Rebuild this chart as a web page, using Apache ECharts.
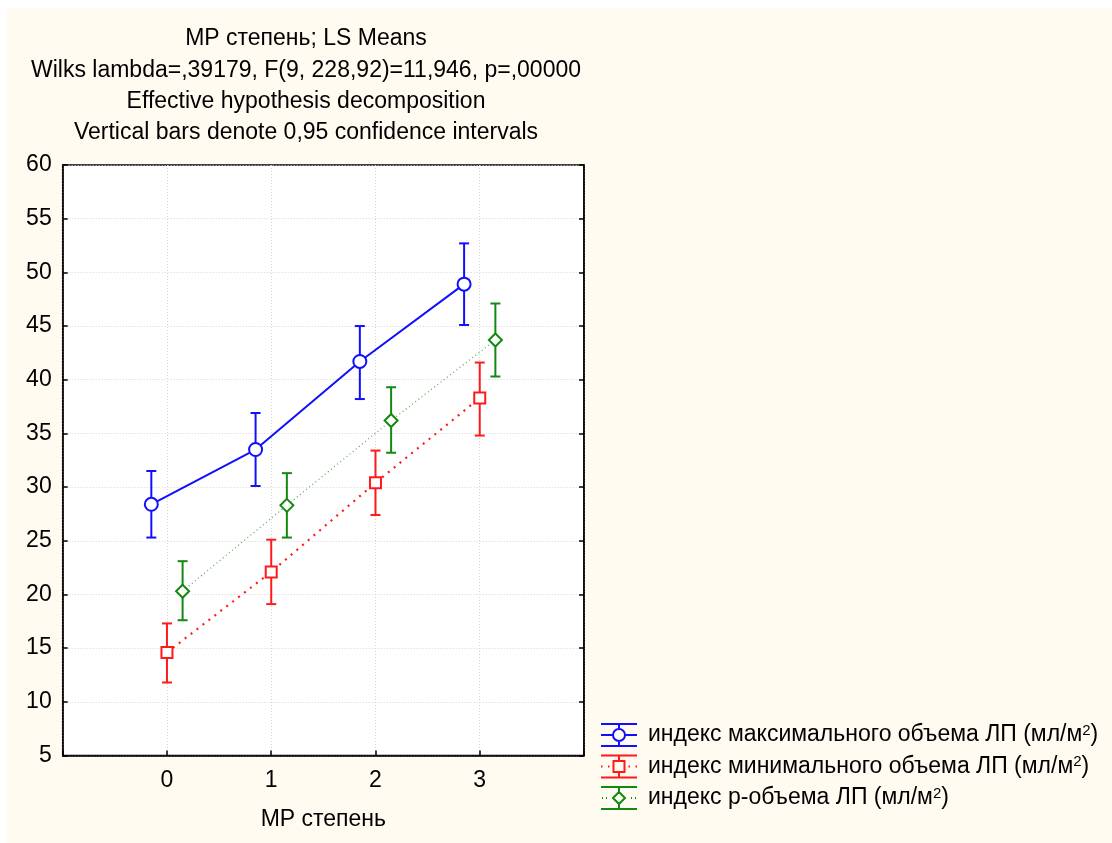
<!DOCTYPE html>
<html>
<head>
<meta charset="utf-8">
<script src="https://cdn.jsdelivr.net/npm/echarts@6/dist/echarts.min.js"></script>
<style>
  html, body { margin: 0; padding: 0; background: #ffffff; width: 1112px; height: 843px; overflow: hidden; }
  #chart { position: absolute; left: 7px; top: 8px; width: 1105px; height: 835px; }
</style>
</head>
<body>
<div id="chart"></div>
<script>
// ---- data ----
var categories = [0, 1, 2, 3];
var xTickLabels = ['0', '1', '2', '3'];
var yTicks = [5, 10, 15, 20, 25, 30, 35, 40, 45, 50, 55, 60];

var titleLines = [
  'MP степень; LS Means',
  'Wilks lambda=,39179, F(9, 228,92)=11,946, p=,00000',
  'Effective hypothesis decomposition',
  'Vertical bars denote 0,95 confidence intervals'
];
var xAxisName = 'MP степень';

var seriesNames = [
  'индекс максимального объема ЛП (мл/м2)',
  'индекс минимального объема ЛП (мл/м2)',
  'индекс p-объема ЛП (мл/м2)'
];

var maxMean = [28.4, 33.5, 41.7, 48.9];
var maxLow  = [25.3, 30.1, 38.2, 45.1];
var maxHigh = [31.5, 36.9, 45.0, 52.7];

var minMean = [14.6, 22.1, 30.4, 38.3];
var minLow  = [11.8, 19.1, 27.4, 34.8];
var minHigh = [17.3, 25.1, 33.4, 41.6];

var pMean = [20.3, 28.3, 36.2, 43.7];
var pLow  = [17.6, 25.3, 33.2, 40.3];
var pHigh = [23.1, 31.3, 39.3, 47.1];

// ---- presentation ----
var FONT = "'Liberation Sans', Arial, sans-serif";
var FS = 23;
var BLUE = '#1010ff', RED = '#ff1a1a', GREEN = '#128a12';
var offsets = [-0.15, 0, 0.15];

var groups = [
  { name: seriesNames[0], mean: maxMean, low: maxLow, high: maxHigh, color: BLUE,
    symbol: 'circle', size: 13, line: { color: BLUE, width: 2, type: 'solid' } },
  { name: seriesNames[1], mean: minMean, low: minLow, high: minHigh, color: RED,
    symbol: 'rect', size: 11, line: { color: RED, width: 2.2, type: [2, 5.5] } },
  { name: seriesNames[2], mean: pMean, low: pLow, high: pHigh, color: GREEN,
    symbol: 'diamond', size: 13, line: { color: '#4fa84f', width: 1.2, type: [1, 3] } }
];

var legendIcons = [
  'path://M0 0 L36 0 M0 22 L36 22 M18 0 L18 5 M18 17 L18 22 M0 11 L12 11 M24 11 L36 11 M12 11 A6 6 0 1 1 24 11 A6 6 0 1 1 12 11 Z',
  'path://M0 0 L36 0 M0 22 L36 22 M18 0 L18 5.5 M18 16.5 L18 22 M12.5 5.5 L23.5 5.5 L23.5 16.5 L12.5 16.5 Z M0 11 L1.5 11 M7 11 L8.5 11 M27.5 11 L29 11 M34.5 11 L36 11',
  'path://M0 0 L36 0 M0 22 L36 22 M18 0 L18 5 M18 17 L18 22 M18 5 L24 11 L18 17 L12 11 Z M1 11 L2 11 M5 11 L6 11 M30 11 L31 11 M34 11 L35 11'
];

function makeErrRender(color) {
  return function (params, api) {
    var x = api.value(0), lo = api.value(1), hi = api.value(2);
    var pH = api.coord([x, hi]), pL = api.coord([x, lo]);
    var hw = 5;
    var st = { stroke: color, lineWidth: 2, fill: null };
    return {
      type: 'group',
      children: [
        { type: 'line', shape: { x1: pH[0], y1: pH[1], x2: pL[0], y2: pL[1] }, style: st },
        { type: 'line', shape: { x1: pH[0] - hw, y1: pH[1], x2: pH[0] + hw, y2: pH[1] }, style: st },
        { type: 'line', shape: { x1: pL[0] - hw, y1: pL[1], x2: pL[0] + hw, y2: pL[1] }, style: st }
      ]
    };
  };
}

var series = [];
groups.forEach(function (g, gi) {
  series.push({
    name: 'err' + gi,
    type: 'custom',
    renderItem: makeErrRender(g.color),
    data: categories.map(function (c, i) { return [c + offsets[gi], g.low[i], g.high[i]]; }),
    z: 3,
    silent: true
  });
});
groups.forEach(function (g, gi) {
  series.push({
    name: g.name,
    type: 'line',
    data: categories.map(function (c, i) { return [c + offsets[gi], g.mean[i]]; }),
    symbol: g.symbol,
    symbolSize: g.size,
    showAllSymbol: true,
    lineStyle: g.line,
    itemStyle: { color: '#ffffff', borderColor: g.color, borderWidth: 2 },
    z: 5,
    silent: true,
    animation: false
  });
});

function legendLabel(name) {
  var base = name.replace(/2\)$/, '');
  return '{g|}{t|' + base + '}{s|2}{t|)}';
}

var graphics = titleLines.map(function (t, i) {
  return {
    type: 'text',
    x: 299,
    y: 31 + i * 31.3,
    style: { text: t, align: 'center', verticalAlign: 'middle', font: FS + 'px ' + FONT, fill: '#000' }
  };
});

var chart = echarts.init(document.getElementById('chart'), null, { renderer: 'canvas' });
chart.setOption({
  backgroundColor: '#fffbf0',
  animation: false,
  graphic: graphics,
  grid: {
    left: 55.7, top: 157, right: 528, bottom: 87.5,
    show: true, backgroundColor: '#ffffff', borderColor: '#000', borderWidth: 1.5,
    containLabel: false
  },
  legend: {
    orient: 'vertical',
    left: 593,
    top: 715,
    padding: 0,
    itemWidth: 36,
    itemHeight: 22,
    itemGap: 7.5,
    selectedMode: false,
    data: seriesNames.map(function (n, i) {
      return {
        name: n,
        icon: legendIcons[i],
        itemStyle: { color: 'rgba(0,0,0,0)', borderColor: groups[i].color, borderWidth: 2 }
      };
    }),
    formatter: legendLabel,
    textStyle: {
      fontFamily: FONT,
      fontSize: FS,
      color: '#000',
      rich: {
        g: { width: 6 },
        t: { fontFamily: FONT, fontSize: FS, lineHeight: 24, color: '#000' },
        s: { fontFamily: FONT, fontSize: 15, lineHeight: 24, verticalAlign: 'top', color: '#000' }
      }
    }
  },
  xAxis: {
    type: 'value',
    min: -1, max: 4, interval: 1,
    name: xAxisName,
    nameLocation: 'middle',
    nameGap: 53,
    nameTextStyle: { fontFamily: FONT, fontSize: FS, color: '#000' },
    axisLine: { show: true, onZero: false, lineStyle: { color: '#000', width: 1.5 } },
    axisTick: { show: true, inside: true, length: 5, lineStyle: { color: '#000', width: 1.5 } },
    axisLabel: {
      margin: 14, fontFamily: FONT, fontSize: FS, color: '#000',
      formatter: function (v) { var k = categories.indexOf(v); return k >= 0 ? xTickLabels[k] : ''; }
    },
    splitLine: { show: true, lineStyle: { color: '#d4d4d4', width: 1, type: [1, 2] } }
  },
  yAxis: [
    {
      type: 'value',
      min: yTicks[0], max: yTicks[yTicks.length - 1], interval: 5,
      axisLine: { show: true, onZero: false, lineStyle: { color: '#000', width: 1.5 } },
      axisTick: { show: true, inside: true, length: 5, lineStyle: { color: '#000', width: 1.5 } },
      axisLabel: { margin: 11, fontFamily: FONT, fontSize: FS, color: '#000' },
      splitLine: { show: true, lineStyle: { color: '#d4d4d4', width: 1, type: [1, 2] } }
    },
    {
      type: 'value',
      position: 'right',
      min: yTicks[0], max: yTicks[yTicks.length - 1], interval: 5,
      axisLine: { show: true, onZero: false, lineStyle: { color: '#000', width: 1.5 } },
      axisTick: { show: true, inside: true, length: 5, lineStyle: { color: '#000', width: 1.5 } },
      axisLabel: { show: false },
      splitLine: { show: false }
    }
  ],
  series: series
});
</script>
</body>
</html>
